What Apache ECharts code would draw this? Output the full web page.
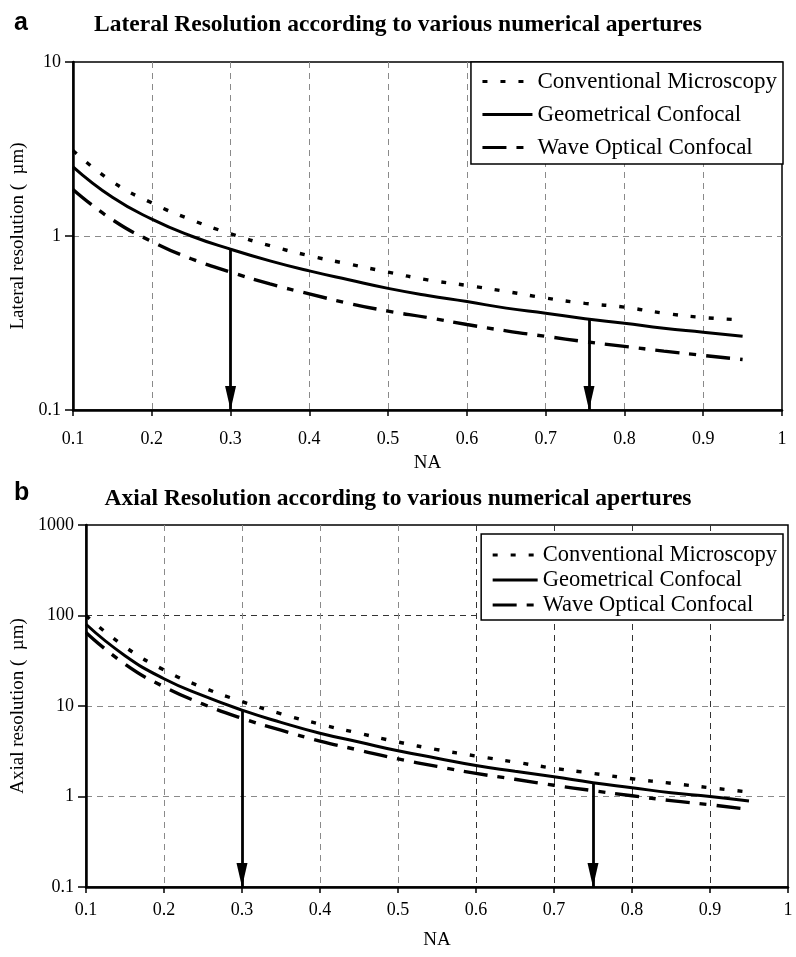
<!DOCTYPE html>
<html>
<head>
<meta charset="utf-8">
<script src="https://cdn.jsdelivr.net/npm/echarts@6/dist/echarts.min.js"></script>
<style>html,body{margin:0;padding:0;background:#fff}#c{width:796px;height:957px}</style>
</head>
<body>
<div id="c"></div>
<script>
// Numerical apertures (x values)
const NA = [0.1, 0.15, 0.2, 0.25, 0.3, 0.35, 0.4, 0.45, 0.5, 0.55, 0.6, 0.65, 0.7, 0.75, 0.8, 0.85, 0.9, 0.95];
// Lateral resolution (um)
const latConv = [3.1, 2.05, 1.55, 1.24, 1.03, 0.88, 0.77, 0.69, 0.62, 0.56, 0.52, 0.48, 0.44, 0.41, 0.39, 0.36, 0.34, 0.33];
const latGeo  = [2.5, 1.67, 1.25, 1.0, 0.84, 0.72, 0.63, 0.56, 0.5, 0.455, 0.42, 0.385, 0.36, 0.335, 0.315, 0.295, 0.28, 0.265];
const latWave = [1.85, 1.24, 0.93, 0.74, 0.62, 0.53, 0.465, 0.41, 0.37, 0.34, 0.31, 0.285, 0.265, 0.247, 0.232, 0.218, 0.206, 0.195];
// Axial resolution (um)
const axConv = [100, 45, 25, 16, 11.2, 8.2, 6.3, 5.0, 4.0, 3.3, 2.8, 2.4, 2.05, 1.8, 1.57, 1.4, 1.25, 1.12];
const axGeo  = [80, 36, 20, 13, 9, 6.6, 5.0, 4.0, 3.2, 2.65, 2.2, 1.9, 1.65, 1.42, 1.25, 1.1, 1.0, 0.89];
const axWave = [65, 29, 16.3, 10.5, 7.3, 5.4, 4.1, 3.25, 2.6, 2.15, 1.8, 1.55, 1.33, 1.16, 1.02, 0.9, 0.81, 0.72];
// Arrows: NA position and starting value on the geometrical curve
const latArrowNA = [0.3, 0.755];
const latArrowTop = [0.84, 0.33];
const axArrowNA = [0.3, 0.75];
const axArrowTop = [9, 1.42];
const names = ['Conventional Microscopy', 'Geometrical Confocal', 'Wave Optical Confocal'];
const titles = ['Lateral Resolution according to various numerical apertures', 'Axial Resolution according to various numerical apertures'];
const yNames = ['Lateral resolution (  \u00b5m)', 'Axial resolution (  \u00b5m)'];

const SERIF = 'Liberation Serif';
const pair = (xs, ys) => xs.map((x, i) => [x, ys[i]]);
const styles = [
  {type: [5, 13], width: 3.4},
  {type: 'solid', width: 3},
  {type: [24, 10, 7, 10], width: 3.4}
];
function mkSeries(idx, data, i, arrows) {
  const s = {
    name: names[i], type: 'line', xAxisIndex: idx, yAxisIndex: idx,
    data: data, smooth: true, showSymbol: false, symbol: 'none',
    lineStyle: {color: '#000', width: styles[i].width, type: styles[i].type, cap: 'butt'},
    itemStyle: {color: '#000'}, z: 3, silent: true
  };
  if (arrows) {
    s.markLine = {
      silent: true, symbol: ['none', 'triangle'], symbolSize: [11, 24],
      symbolOffset: [[0, 0], [0, 12]],
      label: {show: false},
      lineStyle: {color: '#000', width: 2.8, type: 'solid'},
      data: arrows
    };
  }
  return s;
}
const latArrows = latArrowNA.map((x, i) => [{coord: [x, latArrowTop[i]]}, {coord: [x, 0.1]}]);
const axArrows = axArrowNA.map((x, i) => [{coord: [x, axArrowTop[i]]}, {coord: [x, 0.1]}]);

const grids = [
  {left: 73, right: 14, top: 62, height: 348},
  {left: 86, right: 8, top: 525, height: 362}
];
const xLabel = {fontFamily: SERIF, fontSize: 18, color: '#000'};

function xAxis(idx, gap, margin, colors) {
  return {
    type: 'value', gridIndex: idx, min: 0.1, max: 1, interval: 0.1,
    name: 'NA', nameLocation: 'middle', nameGap: gap,
    nameTextStyle: {fontFamily: SERIF, fontSize: 19, color: '#000'},
    axisLine: {lineStyle: {color: '#000', width: 2.5}},
    axisTick: {show: true, inside: false, length: 6, lineStyle: {color: '#000', width: 1.5}},
    axisLabel: Object.assign({margin: margin, formatter: v => (Math.round(v * 10) / 10).toString()}, xLabel),
    splitLine: {show: true, showMinLine: false, showMaxLine: false, lineStyle: {color: colors, width: 1, type: [6, 5]}}
  };
}
function yAxis(idx, min, max, gap, colors) {
  return {
    type: 'log', logBase: 10, gridIndex: idx, min: min, max: max,
    name: yNames[idx], nameLocation: 'middle', nameGap: gap, nameRotate: 90,
    nameTextStyle: {fontFamily: SERIF, fontSize: 19, color: '#000'},
    axisLine: {show: true, lineStyle: {color: '#000', width: 2.5}},
    axisTick: {show: true, length: 8, lineStyle: {color: '#000', width: 1.5}},
    minorTick: {show: false},
    axisLabel: Object.assign({margin: 12, formatter: v => String(+v.toPrecision(3))}, xLabel),
    splitLine: {show: true, showMinLine: false, showMaxLine: false, lineStyle: {color: colors, width: 1, type: [6, 5]}}
  };
}
const g = '#8a8a8a', d = '#333';
const legendBase = {
  orient: 'vertical', itemWidth: 50, itemHeight: 14,
  backgroundColor: '#fff', borderColor: '#000', borderWidth: 1.5, data: names,
  itemStyle: {opacity: 0, borderWidth: 0},
  lineStyle: {width: 3, color: '#000'},
  selectedMode: false
};
const option = {
  backgroundColor: '#fff',
  animation: false,
  title: [
    {text: 'a', left: 9, top: 6, textStyle: {fontFamily: 'Liberation Sans', fontWeight: 'bold', fontSize: 25, color: '#000'}},
    {text: titles[0], left: 'center', top: 8, textStyle: {fontFamily: SERIF, fontWeight: 'bold', fontSize: 23.5, color: '#000'}},
    {text: 'b', left: 9, top: 476, textStyle: {fontFamily: 'Liberation Sans', fontWeight: 'bold', fontSize: 25, color: '#000'}},
    {text: titles[1], left: 'center', top: 482, textStyle: {fontFamily: SERIF, fontWeight: 'bold', fontSize: 23.5, color: '#000'}}
  ],
  grid: grids.map(gr => Object.assign({show: true, borderColor: '#000', borderWidth: 1.5, backgroundColor: 'transparent'}, gr)),
  legend: [
    Object.assign({}, legendBase, {right: 13, top: 62, padding: [8, 6, 5, 10], itemGap: 10,
      textStyle: {fontFamily: SERIF, fontSize: 23, color: '#000'}}),
    Object.assign({}, legendBase, {right: 13, top: 534, padding: [9, 6, 3, 10], itemGap: 1, itemWidth: 45,
      textStyle: {fontFamily: SERIF, fontSize: 22.5, lineHeight: 24, color: '#000'}})
  ],
  xAxis: [
    xAxis(0, 44, 20, g),
    xAxis(1, 44, 14, [g, g, g, g, d, d, d, d])
  ],
  yAxis: [
    yAxis(0, 0.1, 10, 42, g),
    yAxis(1, 0.1, 1000, 55, [g, g, d])
  ],
  series: [
    mkSeries(0, pair(NA, latConv), 0),
    mkSeries(0, pair(NA, latGeo), 1, latArrows),
    mkSeries(0, pair(NA, latWave), 2),
    mkSeries(1, pair(NA, axConv), 0),
    mkSeries(1, pair(NA, axGeo), 1, axArrows),
    mkSeries(1, pair(NA, axWave), 2)
  ]
};
const chart = echarts.init(document.getElementById('c'), null, {renderer: 'canvas'});
chart.setOption(option);
</script>
</body>
</html>
